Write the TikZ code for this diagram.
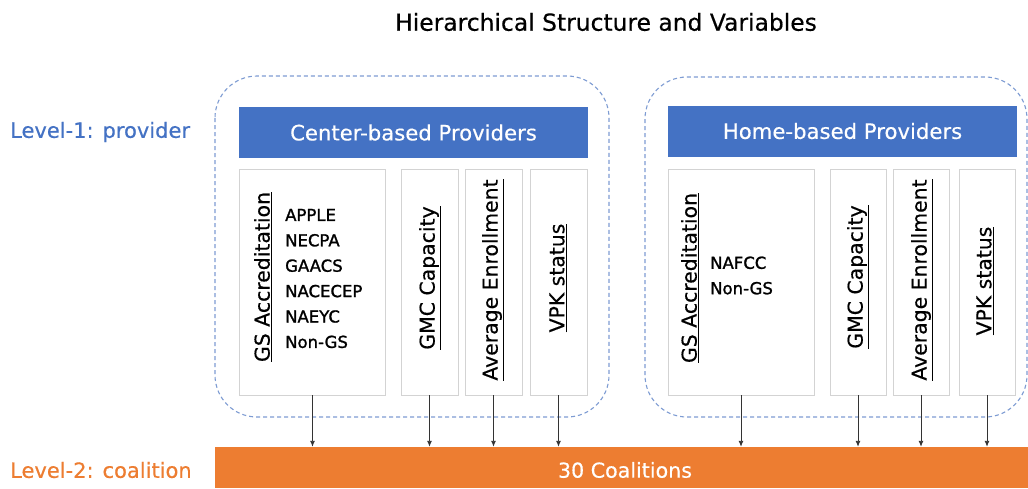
\documentclass[tikz,border=0pt]{standalone}
\usepackage{fontspec}
\setmainfont{DejaVu Sans}[FakeBold=0.4]
\newfontfamily\itemfont{DejaVu Sans}[FakeBold=1.4]
\usetikzlibrary{arrows.meta}
\definecolor{hdrblue}{HTML}{4472C4}
\definecolor{barorange}{HTML}{ED7D31}
\definecolor{dashblue}{HTML}{7E9CD3}
\definecolor{boxgrey}{HTML}{D3D3D3}
\definecolor{arrowgrey}{HTML}{333333}
\tikzset{
  x=1pt, y=-1pt,
  group/.style={draw=dashblue, line width=1.1pt, dash pattern=on 4pt off 3pt, rounded corners=42pt},
  header/.style={fill=hdrblue, draw=none, text=white, font=\fontsize{21.2}{25}\selectfont,
    minimum width=349pt, minimum height=51pt, inner sep=0pt},
  varbox/.style={draw=boxgrey, line width=0.8pt, fill=white, minimum height=226pt, inner sep=0pt},
  varlabel/.style={rotate=90, font=\fontsize{20.4}{24}\selectfont, inner sep=0pt},
  items/.style={align=left, font=\itemfont\fontsize{16.5}{25.4}\selectfont, inner sep=0pt, anchor=west},
  feed/.style={draw=arrowgrey, line width=0.9pt, -{Latex[length=6pt,width=5pt]}},
  level/.style={font=\fontsize{21}{25}\selectfont, anchor=west, inner sep=0pt}
}
\newcommand{\ul}[1]{\underline{#1}}
\begin{document}
\begin{tikzpicture}
\useasboundingbox (0,0) rectangle (1028,488);
\fill[white] (0,0) rectangle (1028,488);

% title and level labels
\node[font=\fontsize{23.4}{28}\selectfont, inner sep=0pt] (title) at (606,22) {Hierarchical Structure and Variables};
\node[level, text=hdrblue] (lvl1) at (10,132) {Level-1: provider};
\node[level, text=barorange] (lvl2) at (10,470) {Level-2: coalition};

% provider groups
\draw[group] (215,76) rectangle (609,417);
\draw[group] (645,77) rectangle (1027,417);

% coalition bar
\node[fill=barorange, minimum width=813pt, minimum height=41pt, inner sep=0pt] (bar) at (621.5,467.5) {};
\node[text=white, font=\fontsize{20.6}{24}\selectfont, inner sep=0pt] (barlabel) at (625,470) {30 Coalitions};

% center-based providers
\node[header] (hc) at (413.5,132.5) {Center-based Providers};
\node[varbox, minimum width=146pt] (cgs) at (312.5,282) {};
\node[varbox, minimum width=57pt] (cgmc) at (429.5,282) {};
\node[varbox, minimum width=57pt] (cavg) at (493.5,282) {};
\node[varbox, minimum width=57pt] (cvpk) at (558.5,282) {};
\node[varlabel] (cgsl) at (263,277) {\ul{GS Accreditation}};
\node[items] (cgsi) at (285,278.5) {APPLE\\NECPA\\GAACS\\NACECEP\\NAEYC\\Non-GS};
\node[varlabel] (cgmcl) at (430,278) {\ul{GMC Capacity}};
\node[varlabel] (cavgl) at (493,280) {\ul{Average Enrollment}};
\node[varlabel] (cvpkl) at (558,278) {\ul{VPK status}};

% home-based providers
\node[header] (hh) at (842.5,131) {Home-based Providers};
\node[varbox, minimum width=146pt] (hgs) at (741,282) {};
\node[varbox, minimum width=56pt] (hgmc) at (858,282) {};
\node[varbox, minimum width=56pt] (havg) at (921,282) {};
\node[varbox, minimum width=56pt] (hvpk) at (987,282) {};
\node[varlabel] (hgsl) at (690,278) {\ul{GS Accreditation}};
\node[items] (hgsi) at (710,275.5) {NAFCC\\Non-GS};
\node[varlabel] (hgmcl) at (858,277) {\ul{GMC Capacity}};
\node[varlabel] (havgl) at (922,280) {\ul{Average Enrollment}};
\node[varlabel] (hvpkl) at (985,281) {\ul{VPK status}};

% variables feed into the coalition level
\foreach \v in {cgs,cgmc,cavg,cvpk,hgs,hgmc,havg,hvpk}
  \draw[feed] (\v.south) -- (\v.south |- bar.north);
\end{tikzpicture}
\end{document}
